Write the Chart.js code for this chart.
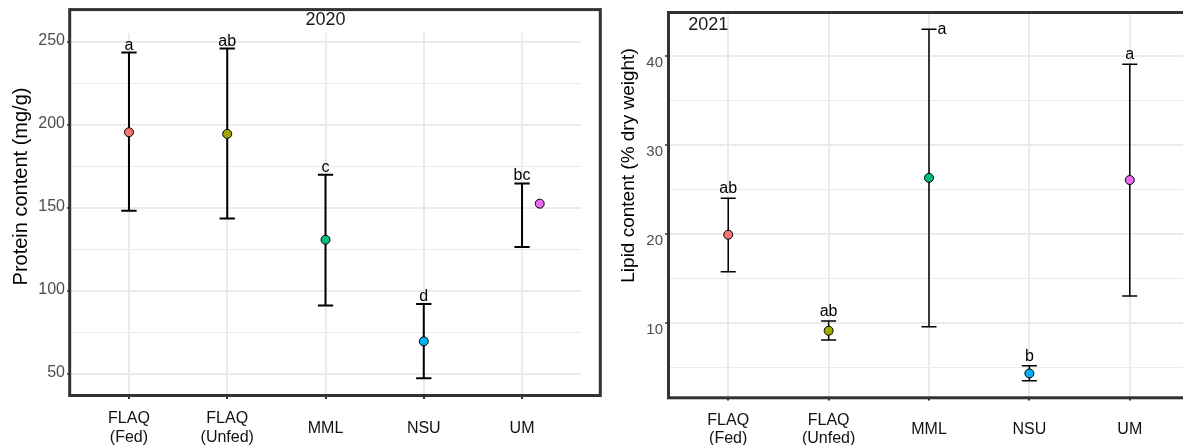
<!DOCTYPE html>
<html>
<head>
<meta charset="utf-8">
<title>Protein and lipid content by site</title>
<script src="https://cdn.jsdelivr.net/npm/chart.js@4.4.1/dist/chart.umd.min.js"></script>
<style>
    html, body { margin: 0; padding: 0; background: #fff; width: 1183px; height: 445px; overflow: hidden; }
    .panel { position: absolute; top: 0; }
    #protein-panel { left: 0; }
    #lipid-panel { left: 600px; }
</style>
</head>
<body>
<div class="panel" id="protein-panel"><canvas id="proteinChart" width="610" height="445"></canvas></div>
<div class="panel" id="lipid-panel"><canvas id="lipidChart" width="600" height="445"></canvas></div>
<script>
// Sites (x categories)
const sites = [['FLAQ', '(Fed)'], ['FLAQ', '(Unfed)'], 'MML', 'NSU', 'UM'];
const siteColors = ['#F8766D', '#A3A500', '#00BF7D', '#00B0F6', '#E76BF3'];

// 2020 protein content (mg/g): mean and error bar limits
const proteinMean = [195.5, 194.5, 130.8, 69.7, 152.5];
const proteinUpper = [243.4, 245.8, 169.9, 92.2, 164.7];
const proteinLower = [148.3, 143.6, 91.3, 47.5, 126.4];
const proteinLetters = ['a', 'ab', 'c', 'd', 'bc'];
const proteinTicks = [50, 100, 150, 200, 250];

// 2021 lipid content (% dry weight)
const lipidMean = [19.9, 9.1, 26.3, 4.3, 26.05];
const lipidUpper = [24.0, 10.2, 43.0, 5.16, 39.07];
const lipidLower = [15.74, 8.05, 9.55, 3.48, 13.0];
const lipidLetters = ['ab', 'ab', 'a', 'b', 'a'];
const lipidTicks = [10, 20, 30, 40];

const FONT = '"Liberation Sans", Arial, sans-serif';

function panelPlugin(cfg) {
    return {
        id: 'panelExtras',
        beforeDatasetsDraw(chart) {
            const { ctx, scales: { x, y } } = chart;
            ctx.save();
            ctx.strokeStyle = '#000';
            ctx.lineWidth = cfg.barWidth;
            cfg.upper.forEach((hi, i) => {
                const cx = x.getPixelForValue(i + 1);
                const half = x.getPixelForValue(i + 1 + cfg.capWidth / 2) - cx;
                const yHi = y.getPixelForValue(hi);
                const yLo = y.getPixelForValue(cfg.lower[i]);
                ctx.beginPath();
                ctx.moveTo(cx, yHi); ctx.lineTo(cx, yLo);
                ctx.moveTo(cx - half, yHi); ctx.lineTo(cx + half, yHi);
                ctx.moveTo(cx - half, yLo); ctx.lineTo(cx + half, yLo);
                ctx.stroke();
            });
            ctx.restore();
        },
        afterDatasetsDraw(chart) {
            const { ctx, scales: { x, y } } = chart;
            ctx.save();
            ctx.fillStyle = '#000';
            ctx.font = '16px ' + FONT;
            // significance letters over the caps
            cfg.letters.forEach((txt, i) => {
                const cx = x.getPixelForValue(i + 1);
                const yHi = y.getPixelForValue(cfg.upper[i]);
                if (cfg.besideCap.includes(i)) {
                    const half = x.getPixelForValue(i + 1 + cfg.capWidth / 2) - cx;
                    ctx.textAlign = 'left';
                    ctx.textBaseline = 'middle';
                    ctx.fillText(txt, cx + half + 1, yHi);
                } else {
                    ctx.textAlign = 'center';
                    ctx.textBaseline = 'alphabetic';
                    ctx.fillText(txt, cx, yHi - cfg.letterGap);
                }
            });
            // year tag
            ctx.fillStyle = '#1a1a1a';
            ctx.font = '18px ' + FONT;
            ctx.textAlign = 'center';
            ctx.textBaseline = 'middle';
            ctx.fillText(cfg.tag.text, x.getPixelForValue(cfg.tag.x), y.getPixelForValue(cfg.tag.y));
            ctx.restore();
        },
        afterDraw(chart) {
            const { ctx, chartArea: a } = chart;
            ctx.save();
            // y axis title
            ctx.fillStyle = '#000';
            ctx.font = cfg.titleSize + 'px ' + FONT;
            ctx.translate(cfg.titleX, cfg.titleY);
            ctx.rotate(-Math.PI / 2);
            ctx.textAlign = 'center';
            ctx.textBaseline = 'middle';
            ctx.fillText(cfg.title, 0, 0);
            ctx.restore();
            // panel frame
            ctx.save();
            ctx.strokeStyle = '#333';
            ctx.lineWidth = 3;
            const b = cfg.frame;
            ctx.strokeRect(a.left + b.left, a.top + b.top,
                (a.right + b.right) - (a.left + b.left), (a.bottom + b.bottom) - (a.top + b.top));
            ctx.restore();
        }
    };
}

function buildPanel(id, cfg) {
    const isMajor = v => cfg.ticks.includes(v);
    const gridValues = [];
    for (let v = Math.ceil(cfg.yMin / cfg.gridStep) * cfg.gridStep; v <= cfg.yMax; v += cfg.gridStep) gridValues.push(v);

    return new Chart(document.getElementById(id), {
        type: 'scatter',
        data: {
            datasets: [{
                data: cfg.mean.map((v, i) => ({ x: i + 1 + (cfg.pointShift[i] || 0), y: v })),
                backgroundColor: siteColors,
                borderColor: '#000',
                borderWidth: 1,
                pointRadius: 4.5,
                pointHoverRadius: 4.5
            }]
        },
        options: {
            responsive: false,
            animation: false,
            devicePixelRatio: 1,
            layout: { padding: { top: cfg.padTop, right: cfg.padRight, left: 0, bottom: 0 } },
            plugins: { legend: { display: false }, tooltip: { enabled: false } },
            scales: {
                x: {
                    type: 'linear',
                    min: 0.4,
                    max: 5.6,
                    afterBuildTicks: s => { s.ticks = sites.map((_, i) => ({ value: i + 1 })); },
                    afterFit: s => { s.height = cfg.xAxisHeight; },
                    border: { display: false },
                    grid: { color: '#ebebeb', lineWidth: 2, tickLength: 3, tickColor: '#333', tickWidth: 2 },
                    ticks: {
                        autoSkip: false,
                        maxRotation: 0,
                        minRotation: 0,
                        crossAlign: 'center',
                        padding: 20,
                        color: '#111',
                        font: { family: FONT, size: 16, lineHeight: 1.15 },
                        callback: v => sites[v - 1]
                    }
                },
                y: {
                    min: cfg.yMin,
                    max: cfg.yMax,
                    afterBuildTicks: s => { s.ticks = gridValues.map(v => ({ value: v })); },
                    afterFit: s => { s.width = cfg.yAxisWidth; },
                    border: { display: false },
                    grid: {
                        color: '#ebebeb',
                        lineWidth: c => isMajor(c.tick.value) ? 2 : 1,
                        tickLength: 3,
                        tickWidth: 1.5,
                        tickColor: c => isMajor(c.tick.value) ? '#333' : 'rgba(0,0,0,0)'
                    },
                    ticks: {
                        padding: 2,
                        labelOffset: cfg.yLabelOffset,
                        color: '#4d4d4d',
                        font: { family: FONT, size: cfg.yTickSize },
                        callback: v => isMajor(v) ? String(v) : ''
                    }
                }
            }
        },
        plugins: [panelPlugin(cfg)]
    });
}

buildPanel('proteinChart', {
    mean: proteinMean, upper: proteinUpper, lower: proteinLower,
    letters: proteinLetters, ticks: proteinTicks,
    pointShift: { 4: 0.18 },
    yMin: 36.8, yMax: 255.2, gridStep: 25,
    padTop: 33, padRight: 29, xAxisHeight: 49, yAxisWidth: 70,
    yTickSize: 16, yLabelOffset: -1,
    barWidth: 2, capWidth: 0.156, letterGap: 3, besideCap: [],
    tag: { text: '2020', x: 3, y: 263 },
    title: 'Protein content (mg/g)', titleSize: 20, titleX: 21, titleY: 186.5,
    frame: { left: -0.3, top: -23.4, right: 19.3, bottom: -0.5 }
});

buildPanel('lipidChart', {
    mean: lipidMean, upper: lipidUpper, lower: lipidLower,
    letters: lipidLetters, ticks: lipidTicks,
    pointShift: {},
    yMin: 1.59, yMax: 44.84, gridStep: 5,
    padTop: 13, padRight: 10, xAxisHeight: 47.5, yAxisWidth: 68,
    yTickSize: 15, yLabelOffset: 7,
    barWidth: 1.5, capWidth: 0.15, letterGap: 5, besideCap: [2],
    tag: { text: '2021', x: 0.8, y: 43.5 },
    title: 'Lipid content (% dry weight)', titleSize: 19, titleX: 28.3, titleY: 165.5,
    frame: { left: 0.5, top: -0.5, right: 20, bottom: 0.3 }
});
</script>
</body>
</html>
